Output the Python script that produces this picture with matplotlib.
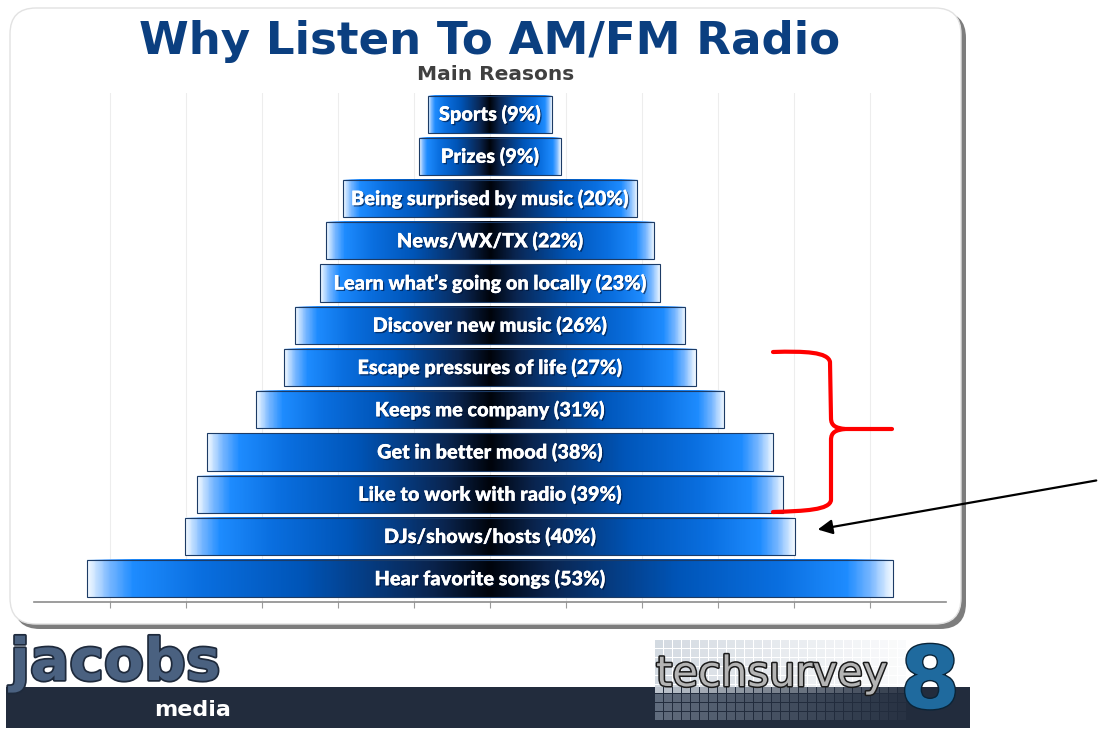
import numpy as np
import matplotlib
matplotlib.use("Agg")
import matplotlib.pyplot as plt
from matplotlib.colors import LinearSegmentedColormap
from matplotlib.patches import FancyBboxPatch, Rectangle, PathPatch, FancyArrowPatch
from matplotlib.path import Path
from matplotlib.transforms import Affine2D
import matplotlib.patheffects as pe

# data, bottom bar first
reasons = ["Hear favorite songs", "DJs/shows/hosts", "Like to work with radio",
           "Get in better mood", "Keeps me company", "Escape pressures of life",
           "Discover new music", "Learn what\u2019s going on locally", "News/WX/TX",
           "Being surprised by music", "Prizes", "Sports"]
pct_labels = [53, 40, 39, 38, 31, 27, 26, 23, 22, 20, 9, 9]
bar_widths = [53.0, 40.1, 38.6, 37.3, 30.8, 27.1, 25.7, 22.4, 21.6, 19.4, 9.3, 8.1]
grid_ticks = [-25, -20, -15, -10, -5, 0, 5, 10, 15, 20, 25]

W, H = 1099, 732
fig = plt.figure(figsize=(W / 100, H / 100), dpi=100)
fig.patch.set_facecolor("white")

# pixel coordinates (y down) -> figure
px = Affine2D().scale(1 / W, -1 / H).translate(0, 1) + fig.transFigure

# rounded panel with shadow
fig.patches.append(FancyBboxPatch((14, 12), 952, 617, boxstyle="round,pad=0,rounding_size=26",
                                  transform=px, facecolor="#7d7d7d", edgecolor="none", zorder=-3))
fig.patches.append(FancyBboxPatch((10, 8), 951, 616, boxstyle="round,pad=0,rounding_size=26",
                                  transform=px, facecolor="white", edgecolor="#e2e2e2", lw=1, zorder=-2))

fig.text(490 / W, 1 - 54 / H, "Why Listen To AM/FM Radio", ha="center", va="baseline",
         fontsize=32.5, fontweight="bold", color="#0b3f80", family="DejaVu Sans")
fig.text(496 / W, 1 - 80 / H, "Main Reasons", ha="center", va="baseline",
         fontsize=14.5, fontweight="bold", color="#404040", family="DejaVu Sans")

ax = fig.add_axes([34 / W, 1 - 602 / H, 912 / W, 509 / H])
ax.patch.set_alpha(0)

grad_cmap = LinearSegmentedColormap.from_list("bar", [
    (0.0, "#00040c"), (0.15, "#0a2550"), (0.47, "#0055b8"), (0.72, "#0a6fe0"),
    (0.89, "#1e8cff"), (0.95, "#7ab8ff"), (1.0, "#f0f8ff")])
grad = np.abs(np.linspace(-1, 1, 400))[None, :]

ypos = np.arange(len(reasons))
bh = 0.88
for y, w in zip(ypos, bar_widths):
    ax.imshow(grad, cmap=grad_cmap, vmin=0, vmax=1, aspect="auto", interpolation="bilinear",
              extent=(-w / 2, w / 2, y - bh / 2, y + bh / 2), zorder=2)
ax.barh(ypos, bar_widths, left=[-w / 2 for w in bar_widths], height=bh,
        facecolor="none", edgecolor="#1c3b66", lw=0.8, zorder=3)

for y, r, p in zip(ypos, reasons, pct_labels):
    ax.text(0, y, f"{r} ({p}%)", ha="center", va="center", color="white",
            fontsize=14.3, fontweight="heavy", family=["Lato", "DejaVu Sans"], zorder=4,
            path_effects=[pe.withSimplePatchShadow(offset=(1, -1), shadow_rgbFace="#001030", alpha=0.6),
                          pe.Normal()])

ax.set_xlim(-30, 30)
ax.set_ylim(-0.55, len(reasons) - 0.5)
ax.set_xticks(grid_ticks)
ax.set_xticklabels([])
ax.set_yticks([])
ax.tick_params(axis="x", direction="out", length=4, color="#9a9a9a")
ax.xaxis.grid(True, color="#ededed", lw=0.8)
ax.set_axisbelow(True)
for side in ["top", "left", "right"]:
    ax.spines[side].set_visible(False)
ax.spines["bottom"].set_color("#8c8c8c")
ax.spines["bottom"].set_linewidth(1.2)

# red curly bracket
verts = [(773, 352), (805, 351), (828, 352), (830, 362), (831, 418),
         (831, 426), (836, 428), (845, 429), (892, 429),
         (845, 429), (836, 430), (831, 432), (831, 440), (831, 500),
         (830, 510), (805, 511), (773, 512)]
codes = [Path.MOVETO, Path.CURVE4, Path.CURVE4, Path.CURVE4, Path.LINETO,
         Path.CURVE4, Path.CURVE4, Path.CURVE4, Path.LINETO,
         Path.MOVETO, Path.CURVE4, Path.CURVE4, Path.CURVE4, Path.LINETO,
         Path.CURVE4, Path.CURVE4, Path.CURVE4]
fig.patches.append(PathPatch(Path(verts, codes), transform=px, facecolor="none",
                             edgecolor="#ff0000", lw=3, capstyle="round", zorder=5))

# black arrow
fig.patches.append(FancyArrowPatch((1099, 480), (815, 530), transform=px, arrowstyle="-|>",
                                   mutation_scale=22, color="black", lw=1.6, zorder=5))

# footer band
fig.patches.append(Rectangle((6, 687), 964, 41, transform=px, facecolor="#222c3d",
                             edgecolor="none", zorder=-2))

# jacobs media logo
fig.text(10 / W, 1 - 680 / H, "jacobs", ha="left", va="baseline", fontsize=42,
         fontweight="bold", color="#4a6180", family="DejaVu Sans",
         path_effects=[pe.withStroke(linewidth=2.5, foreground="#1e2a3c")])
fig.text(193 / W, 1 - 716 / H, "media", ha="center", va="baseline", fontsize=16,
         fontweight="bold", color="white", family="DejaVu Sans")

# techsurvey logo: tile backdrop
for i in range(28):
    for j in range(9):
        tx = 655 + i * 9
        ty = 640 + j * 9
        fade = max(0.0, 1 - i / 30) * (0.9 if ty < 687 else 0.6)
        col = "#cfd6de" if ty < 687 else "#8a97a8"
        fig.patches.append(Rectangle((tx, ty), 7.5, 7.5, transform=px, facecolor=col,
                                     edgecolor="none", alpha=fade, zorder=-1))
fig.text(656 / W, 1 - 686 / H, "techsurvey", ha="left", va="baseline", fontsize=30,
         color="#b4b4b4", family="DejaVu Sans",
         path_effects=[pe.withStroke(linewidth=2.2, foreground="#1a1a1a")])
fig.text(930 / W, 1 - 708 / H, "8", ha="center", va="baseline", fontsize=62,
         fontweight="bold", color="#1f6a9e", family="DejaVu Sans",
         path_effects=[pe.withStroke(linewidth=2, foreground="#0a2438")])

plt.savefig("out.png", dpi=100, facecolor="white")
